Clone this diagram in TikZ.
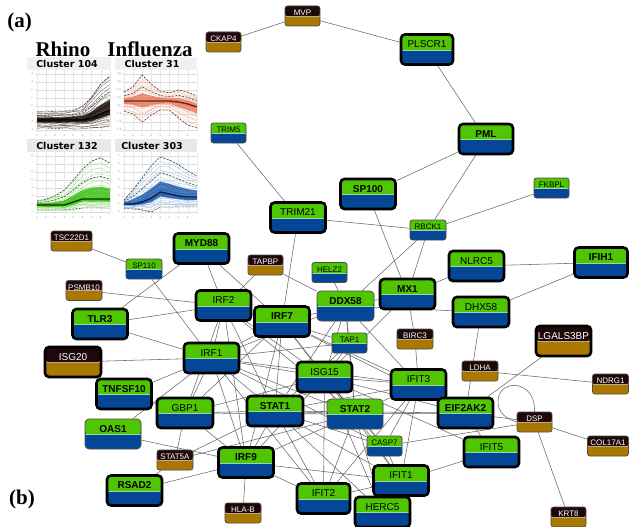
\documentclass[tikz,border=0pt]{standalone}
\usepackage{fontspec}
\setmainfont{Liberation Sans}
\newfontfamily\titlefont{Liberation Serif}
\newfontfamily\clusterfont{DejaVu Sans}
\usetikzlibrary{calc,backgrounds}

\definecolor{gtop}{RGB}{80,198,0}
\definecolor{gbot}{RGB}{6,70,150}
\definecolor{btop}{RGB}{30,8,8}
\definecolor{bbot}{RGB}{170,120,0}
\definecolor{seamg}{RGB}{150,215,175}
\definecolor{seamb}{RGB}{190,170,140}
\definecolor{linkgray}{RGB}{105,105,105}
% profile colours
\definecolor{rhinofaint}{RGB}{95,80,75}
\definecolor{rhinocore}{RGB}{25,12,8}
\definecolor{flufaint}{RGB}{245,175,155}
\definecolor{flucore}{RGB}{232,125,95}
\definecolor{flumean}{RGB}{110,30,15}
\definecolor{rgfaint}{RGB}{140,222,110}
\definecolor{rgcore}{RGB}{60,192,20}
\definecolor{rgmean}{RGB}{10,45,5}
\definecolor{fbfaint}{RGB}{150,185,225}
\definecolor{fbcore}{RGB}{30,92,170}
\definecolor{fbmean}{RGB}{8,28,80}

\tikzset{
  twotone/.style n args={4}{fill=#2, path picture={
      \fill[#1] (path picture bounding box.north west) rectangle
        ($(path picture bounding box.north east)!#3!(path picture bounding box.south east)$);
      \draw[#4, line width=0.9pt]
        ($(path picture bounding box.north west)!#3!(path picture bounding box.south west)$) --
        ($(path picture bounding box.north east)!#3!(path picture bounding box.south east)$);
  }},
  big/.style={rectangle, rounded corners=4pt, inner sep=0pt, minimum width=55pt,
    minimum height=30pt, text height=13pt, text depth=17pt, font=\fontsize{10}{12}\selectfont},
  bigbf/.style={big, font=\fontsize{10}{12}\selectfont\bfseries},
  small/.style={rectangle, rounded corners=2.5pt, inner sep=0pt, minimum width=35pt,
    minimum height=20pt, text height=9.5pt, text depth=10.5pt, font=\fontsize{8}{10}\selectfont},
  gcol/.style={twotone={gtop}{gbot}{0.53}{seamg}, text=black},
  bcol/.style={twotone={btop}{bbot}{0.5}{seamb}, text=white},
  heavy/.style={draw=black, line width=2.6pt},
  light/.style={draw=black!70, line width=0.7pt},
  link/.style={draw=linkgray, line width=0.55pt},
  tick/.style={font=\fontsize{2.6}{3}\selectfont, text=black!50, inner sep=0pt},
  header/.style={font=\clusterfont\bfseries\fontsize{9.5}{11}\selectfont, inner sep=0pt},
  title/.style={font=\titlefont\bfseries\fontsize{21}{24}\selectfont, inner sep=0pt},
}

% one expression profile panel:
% #1,#2 origin; #3 mean; #4 upper envelope; #5 lower envelope;
% #6 faint line colour; #7 core colour; #8 mean colour; #9 axis values
\newcommand\clusterplot[9]{%
  \begin{scope}[shift={(#1,#2)}]
    \fill[white] (0,0) rectangle (81,62);
    \foreach \g in {4,12,...,60} \draw[black!14, line width=0.3pt] (6,\g) -- (81,\g);
    \foreach \t in {0,...,8} \draw[black!9, line width=0.3pt] ({8+\t*9.1},0) -- ({8+\t*9.1},62);
    \foreach \v [count=\i] in {#9} \node[tick] (yl#1x#2x\i) at (3,{4+(\i-1)*8}) {\v};
    \foreach \t in {1,...,8} \node[tick] (xl#1x#2x\t) at ({8+(\t-1)*9.1},65.5) {\t};
    \foreach \k in {-1,-0.85,-0.72,-0.6,-0.5,-0.41,-0.33,-0.26,-0.2,-0.14,-0.09,-0.04,
                    0.03,0.07,0.12,0.18,0.25,0.33,0.42,0.52,0.63,0.75,0.88,1}{
      \draw[#6, line width=0.35pt, opacity=0.85]
        (8,{#3[0]+max(\k,0)*(#4[0]-#3[0])+max(0-(\k),0)*(#5[0]-#3[0])+0.8*rand})
        \foreach \t in {1,...,8}{ -- ({8+\t*9.1},{#3[\t]+max(\k,0)*(#4[\t]-#3[\t])+max(0-(\k),0)*(#5[\t]-#3[\t])+1.2*rand}) };
    }
    \fill[#7, opacity=0.8]
      (8,{#3[0]+0.3*(#4[0]-#3[0])})
      \foreach \t in {1,...,8}{ -- ({8+\t*9.1},{#3[\t]+0.3*(#4[\t]-#3[\t])}) }
      \foreach \t in {8,7,...,0}{ -- ({8+\t*9.1},{#3[\t]+0.3*(#5[\t]-#3[\t])}) } -- cycle;
    \foreach \k in {0.22,0.12,-0.12,-0.22}{
      \draw[#7, line width=0.4pt]
        (8,{#3[0]+max(\k,0)*(#4[0]-#3[0])+max(0-(\k),0)*(#5[0]-#3[0])+rand})
        \foreach \t in {1,...,8}{ -- ({8+\t*9.1},{#3[\t]+max(\k,0)*(#4[\t]-#3[\t])+max(0-(\k),0)*(#5[\t]-#3[\t])+1.5*rand}) };
    }
    \foreach \k in {1,0.55,-1}{
      \draw[black!85, line width=0.45pt, dash pattern=on 2pt off 1.5pt]
        (8,{#3[0]+max(\k,0)*(#4[0]-#3[0])+max(0-(\k),0)*(#5[0]-#3[0])})
        \foreach \t in {1,...,8}{ -- ({8+\t*9.1},{#3[\t]+max(\k,0)*(#4[\t]-#3[\t])+max(0-(\k),0)*(#5[\t]-#3[\t])}) };
    }
    \draw[#8, line width=1.3pt] (8,{#3[0]}) \foreach \t in {1,...,8}{ -- ({8+\t*9.1},{#3[\t]}) };
  \end{scope}}

\begin{document}
\begin{tikzpicture}[x=1pt, y=-1pt]
\useasboundingbox (0,0) rectangle (629,527);
\pgfmathsetseed{4217}
\begin{scope}[on background layer]
  \fill[white] (0,0) rectangle (629,527);
\end{scope}

% ---------- panel (a): cluster profiles ----------
\node[title] (labA) at (19.5,22) {(a)};
\node[title] (labB) at (22,499) {(b)};
\node[title] (rhino) at (63,49) {Rhino};
\node[title] (flu) at (150,49) {Influenza};
\fill[black!6] (27,57) rectangle (111,70);
\fill[black!6] (115,57) rectangle (197,70);
\fill[black!9] (27,139) rectangle (111,152);
\fill[black!9] (115,139) rectangle (197,152);
\node[header] (c104) at (67,64) {Cluster 104};
\node[header] (c31) at (152,64) {Cluster 31};
\node[header] (c132) at (67,146) {Cluster 132};
\node[header] (c303) at (152,146) {Cluster 303};

\clusterplot{29}{70}{{50,50,50,50,50,50,48,44,40}}{{42,42,41,41,40,37,27,14,6}}{{58,58,59,58,58,58,58,57,56}}{rhinofaint}{rhinocore}{black}{4,3,2,1,0,-1,-2,-3}
\clusterplot{116}{70}{{31,31,31,31,31,31,32,34,37}}{{22,17,5,14,21,23,20,22,26}}{{41,44,52,45,40,40,48,55,58}}{flufaint}{flucore}{flumean}{0.8,0.6,0.4,0.2,0.0,-0.2,-0.4,-0.6}
\clusterplot{29}{152}{{53,53,53,53,50,47,47,47,47}}{{49,47,44,38,28,17,9,6,11}}{{58,58,58,58,57,56,56,56,56}}{rgfaint}{rgcore}{rgmean}{8,7,6,5,4,3,2,1}
\clusterplot{116}{152}{{52,52,50,46,40,42,44,45,45}}{{48,38,26,14,5,8,13,19,24}}{{56,57,58,60,55,55,55,55,55}}{fbfaint}{fbcore}{fbmean}{7,6,5,4,3,2,1,0}

% ---------- panel (b): interaction network ----------
\node[small, bcol, light] (MVP) at (302.5,16) {MVP};
\node[small, bcol, light] (CKAP4) at (223.5,42) {CKAP4};
\node[big, gcol, heavy, minimum width=52pt, minimum height=29pt] (PLSCR1) at (427,49.5) {PLSCR1};
\node[bigbf, gcol, heavy, minimum width=54pt, minimum height=28pt] (PML) at (486,139) {PML};
\node[small, gcol, light] (TRIM5) at (228.5,133) {TRIM5};
\node[small, gcol, light] (FKBPL) at (551.5,188) {FKBPL};
\node[bigbf, gcol, heavy] (SP100) at (368,194) {SP100};
\node[big, gcol, heavy] (TRIM21) at (298,217.5) {TRIM21};
\node[small, gcol, light, minimum width=36pt] (RBCK1) at (428,230) {RBCK1};
\node[small, bcol, light, minimum width=41pt] (TSC22D1) at (71.5,241) {TSC22D1};
\node[bigbf, gcol, heavy] (MYD88) at (201.5,248.5) {MYD88};
\node[small, gcol, light, minimum width=36pt] (SP110) at (144,269) {SP110};
\node[small, bcol, light] (TAPBP) at (265.5,265) {TAPBP};
\node[small, gcol, light] (HELZ2) at (329.5,272.5) {HELZ2};
\node[big, gcol, heavy] (NLRC5) at (476.5,266) {NLRC5};
\node[bigbf, gcol, heavy, minimum width=53pt] (IFIH1) at (601,262.5) {IFIH1};
\node[small, bcol, light, minimum width=36pt] (PSMB10) at (84,290.5) {PSMB10};
\node[bigbf, gcol, heavy] (MX1) at (407.5,294) {MX1};
\node[big, gcol, heavy] (IRF2) at (223.5,305.5) {IRF2};
\node[bigbf, gcol, light, minimum width=57pt] (DDX58) at (345.5,306) {DDX58};
\node[big, gcol, heavy, minimum width=56pt] (DHX58) at (481,312) {DHX58};
\node[bigbf, gcol, heavy] (TLR3) at (100,324) {TLR3};
\node[bigbf, gcol, heavy] (IRF7) at (282,321.5) {IRF7};
\node[small, bcol, light, minimum width=36pt] (BIRC3) at (415,339) {BIRC3};
\node[small, gcol, light] (TAP1) at (349.5,343) {TAP1};
\node[big, bcol, heavy] (LGALS3BP) at (563.5,341) {LGALS3BP};
\node[big, bcol, heavy, minimum width=56pt] (ISG20) at (73,362) {ISG20};
\node[big, gcol, heavy] (IRF1) at (211.5,358) {IRF1};
\node[small, bcol, light, minimum width=36pt] (LDHA) at (480,371) {LDHA};
\node[big, gcol, heavy] (ISG15) at (324.5,377) {ISG15};
\node[small, bcol, light, minimum width=36pt] (NDRG1) at (610.5,384) {NDRG1};
\node[big, gcol, heavy] (IFIT3) at (418.5,384.5) {IFIT3};
\node[bigbf, gcol, heavy] (TNFSF10) at (124,394) {TNFSF10};
\node[big, gcol, heavy, minimum width=56pt] (GBP1) at (185,413) {GBP1};
\node[bigbf, gcol, heavy, minimum width=56pt] (STAT1) at (275,411) {STAT1};
\node[bigbf, gcol, light, minimum width=56pt] (STAT2) at (355,414) {STAT2};
\node[bigbf, gcol, heavy] (EIF2AK2) at (465.5,413) {EIF2AK2};
\node[small, bcol, light] (DSP) at (534.5,422) {DSP};
\node[bigbf, gcol, light, minimum width=56pt] (OAS1) at (113,434) {OAS1};
\node[small, gcol, light] (CASP7) at (384.5,446) {CASP7};
\node[small, bcol, light, minimum width=41pt] (COL17A1) at (608,446) {COL17A1};
\node[big, gcol, heavy] (IFIT5) at (491.5,452) {IFIT5};
\node[small, bcol, light, minimum width=36pt] (STAT5A) at (175,460) {STAT5A};
\node[bigbf, gcol, heavy, minimum height=29pt] (IRF9) at (246,462.5) {IRF9};
\node[big, gcol, heavy, minimum height=29pt] (IFIT1) at (401,480.5) {IFIT1};
\node[bigbf, gcol, heavy, minimum height=29pt] (RSAD2) at (134.5,490.5) {RSAD2};
\node[big, gcol, heavy, minimum width=53pt, minimum height=29pt] (IFIT2) at (323.5,498.5) {IFIT2};
\node[big, gcol, heavy, minimum height=29pt] (HERC5) at (382.5,512) {HERC5};
\node[small, bcol, light, minimum width=36pt] (HLAB) at (243,513) {HLA-B};
\node[small, bcol, light] (KRT8) at (568.5,517) {KRT8};

\begin{scope}[on background layer]
  % peripheral interactions
  \foreach \a/\b in {CKAP4/MVP, MVP/PLSCR1, PLSCR1/PML, PML/SP100, PML/RBCK1,
      FKBPL/RBCK1, TRIM21/RBCK1, RBCK1/DDX58, RBCK1/MX1, SP100/MX1, MX1/NLRC5,
      NLRC5/IFIH1, IFIH1/DHX58, DDX58/DHX58, DDX58/MX1, HELZ2/DDX58, MX1/BIRC3,
      BIRC3/IFIT3, MX1/ISG15, DHX58/EIF2AK2, LDHA/NDRG1, LGALS3BP/EIF2AK2,
      EIF2AK2/DSP, DSP/COL17A1, DSP/KRT8, DSP/CASP7, TSC22D1/SP110, SP110/IRF1,
      MYD88/TLR3, MYD88/IRF2, MYD88/IRF7, TAPBP/IRF2, TAPBP/DDX58, TRIM21/IRF7,
      TRIM5/TRIM21, PSMB10/IRF2, TLR3/IRF2, TLR3/IRF1, ISG20/IRF1, TNFSF10/IRF1,
      TNFSF10/GBP1, OAS1/IRF1, OAS1/IRF9, GBP1/STAT5A, STAT5A/STAT1, STAT5A/STAT2,
      STAT5A/RSAD2, RSAD2/IRF9, IRF9/HLAB}
    \draw[link] (\a) -- (\b);
  % interferon core
  \foreach \a/\b in {IRF2/IRF1, IRF2/IRF7, IRF2/ISG15, IRF2/STAT1, IRF2/GBP1,
      IRF2/IRF9, IRF2/STAT2, IRF7/IRF1, IRF7/ISG15, IRF7/STAT1, IRF7/STAT2,
      IRF7/DDX58, IRF7/TAP1, IRF7/IFIT3, IRF7/GBP1, IRF7/IRF9, IRF7/EIF2AK2,
      IRF1/GBP1, IRF1/STAT1, IRF1/IRF9, IRF1/ISG15, IRF1/STAT2, IRF1/TAP1,
      IRF1/IFIT3, IRF1/DDX58, IRF1/IFIT2, IRF1/CASP7, ISG15/STAT1, ISG15/STAT2,
      ISG15/TAP1, ISG15/IFIT3, ISG15/EIF2AK2, ISG15/CASP7, ISG15/IFIT1,
      ISG15/IFIT2, ISG15/IFIT5, ISG15/HERC5, ISG15/GBP1, ISG15/IRF9, ISG15/DDX58,
      STAT1/STAT2, STAT1/GBP1, STAT1/IRF9, STAT1/IFIT2, STAT1/IFIT1, STAT1/IFIT3,
      STAT1/EIF2AK2, STAT1/CASP7, STAT1/HERC5, STAT1/TAP1, STAT1/DDX58,
      STAT2/IFIT3, STAT2/EIF2AK2, STAT2/CASP7, STAT2/IFIT1, STAT2/IFIT2,
      STAT2/HERC5, STAT2/IRF9, STAT2/DDX58, STAT2/TAP1, STAT2/GBP1,
      IFIT3/EIF2AK2, IFIT3/CASP7, IFIT3/IFIT1, IFIT3/IFIT2, IFIT1/IFIT2,
      IFIT1/IFIT5, IFIT1/HERC5, IFIT1/CASP7, IFIT1/IRF9, EIF2AK2/IFIT5,
      DDX58/TAP1, DDX58/IFIT3, GBP1/IRF9, IRF9/IFIT2}
    \draw[link] (\a) -- (\b);
  % self interaction of DSP
  \draw[link] (DSP.north) .. controls (536,380) and (500,378) .. (498,400)
              .. controls (497,414) and (508,419) .. (DSP.west);
\end{scope}
\end{tikzpicture}
\end{document}
